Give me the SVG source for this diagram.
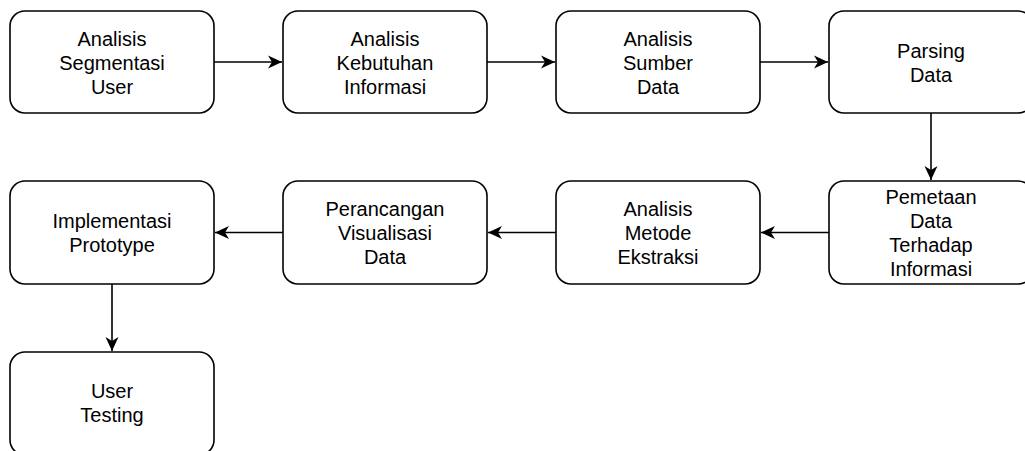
<svg xmlns="http://www.w3.org/2000/svg" width="1025" height="451" viewBox="0 0 1025 451">
<style>
.box{fill:#fff;stroke:#000;stroke-width:1.6}
.t{font-family:"Liberation Sans",Arial,Helvetica,sans-serif;font-size:20px;fill:#000;text-anchor:middle}
.c{stroke:#000;stroke-width:1.6;fill:none}
</style>
<defs>
<marker id="ah" markerUnits="userSpaceOnUse" markerWidth="16" markerHeight="14" viewBox="-15 -7 16 14" refX="0" refY="0" orient="auto">
<path d="M0,0 L-14,-6.5 L-10,0 L-14,6.5 Z" fill="#000"/>
</marker>
</defs>
<rect width="1025" height="451" fill="#fff"/>
<g id="connectors">
<line class="c" x1="214" y1="62" x2="282" y2="62" marker-end="url(#ah)"/>
<line class="c" x1="487" y1="62" x2="555" y2="62" marker-end="url(#ah)"/>
<line class="c" x1="760" y1="62" x2="828" y2="62" marker-end="url(#ah)"/>
<line class="c" x1="931" y1="113" x2="931" y2="180" marker-end="url(#ah)"/>
<line class="c" x1="829" y1="232.5" x2="761" y2="232.5" marker-end="url(#ah)"/>
<line class="c" x1="556" y1="232.5" x2="488" y2="232.5" marker-end="url(#ah)"/>
<line class="c" x1="283" y1="232.5" x2="215" y2="232.5" marker-end="url(#ah)"/>
<line class="c" x1="112" y1="284" x2="112" y2="351" marker-end="url(#ah)"/>
</g>
<g id="n1"><rect class="box" x="10" y="11" width="204" height="102" rx="15"/>
<text class="t" x="112" y="46">Analisis</text><text class="t" x="112" y="70">Segmentasi</text><text class="t" x="112" y="94">User</text></g>
<g id="n2"><rect class="box" x="283" y="11" width="204" height="102" rx="15"/>
<text class="t" x="385" y="46">Analisis</text><text class="t" x="385" y="70">Kebutuhan</text><text class="t" x="385" y="94">Informasi</text></g>
<g id="n3"><rect class="box" x="556" y="11" width="204" height="102" rx="15"/>
<text class="t" x="658" y="46">Analisis</text><text class="t" x="658" y="70">Sumber</text><text class="t" x="658" y="94">Data</text></g>
<g id="n4"><rect class="box" x="829" y="11" width="204" height="102" rx="15"/>
<text class="t" x="931" y="58">Parsing</text><text class="t" x="931" y="82">Data</text></g>
<g id="n5"><rect class="box" x="829" y="181" width="204" height="103" rx="15"/>
<text class="t" x="931" y="203.5">Pemetaan</text><text class="t" x="931" y="227.5">Data</text><text class="t" x="931" y="251.5">Terhadap</text><text class="t" x="931" y="275.5">Informasi</text></g>
<g id="n6"><rect class="box" x="556" y="181" width="204" height="103" rx="15"/>
<text class="t" x="658" y="215.5">Analisis</text><text class="t" x="658" y="239.5">Metode</text><text class="t" x="658" y="263.5">Ekstraksi</text></g>
<g id="n7"><rect class="box" x="283" y="181" width="204" height="103" rx="15"/>
<text class="t" x="385" y="215.5">Perancangan</text><text class="t" x="385" y="239.5">Visualisasi</text><text class="t" x="385" y="263.5">Data</text></g>
<g id="n8"><rect class="box" x="10" y="181" width="204" height="103" rx="15"/>
<text class="t" x="112" y="227.5">Implementasi</text><text class="t" x="112" y="251.5">Prototype</text></g>
<g id="n9"><rect class="box" x="10" y="352" width="204" height="103" rx="15"/>
<text class="t" x="112" y="398">User</text><text class="t" x="112" y="422">Testing</text></g>
</svg>
